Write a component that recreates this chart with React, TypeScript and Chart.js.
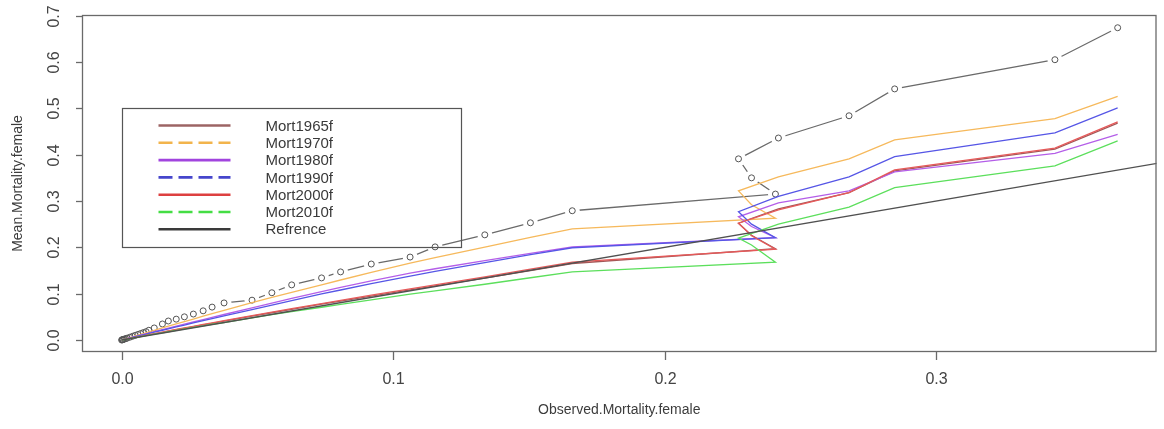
import React, { useEffect, useRef } from "react";
import { Chart, registerables } from "chart.js";

Chart.register(...registerables);

// Observed mortality (x) shared by every series
const obsX = [
  0, 0.0002, 0.0004, 0.0005, 0.001, 0.0015, 0.002, 0.003, 0.004, 0.005, 0.006, 0.007, 0.008, 0.009, 0.01, 0.012,
  0.015, 0.0172, 0.0201, 0.0231, 0.0264, 0.03, 0.0333, 0.0377,
  0.048, 0.0553, 0.0626, 0.0736, 0.0806, 0.0919, 0.1062, 0.1154, 0.1337, 0.1505, 0.1659,
  0.2407, 0.2319, 0.2271, 0.2418, 0.2678, 0.2846, 0.3436, 0.3667,
];

// Mean mortality (circles, type "b")
const meanObs = [
  0, 0.0004, 0.0008, 0.001, 0.002, 0.003, 0.004, 0.006, 0.008, 0.01, 0.012, 0.014, 0.016, 0.018, 0.021, 0.026,
  0.0346, 0.041, 0.045, 0.05, 0.056, 0.063, 0.071, 0.08,
  0.086, 0.102, 0.119, 0.134, 0.147, 0.164, 0.179, 0.201, 0.227, 0.253, 0.279,
  0.315, 0.35, 0.391, 0.436, 0.484, 0.542, 0.605, 0.674,
];

const mort1965f = [
  0, 0.00022, 0.00045, 0.00056, 0.00112, 0.00168, 0.00224, 0.00335, 0.00446, 0.00557, 0.00668, 0.00779, 0.0089, 0.01, 0.0111, 0.0133,
  0.0166, 0.019, 0.0221, 0.0253, 0.0288, 0.0326, 0.0361, 0.0407,
  0.0514, 0.0588, 0.0661, 0.0773, 0.0841, 0.0947, 0.1083, 0.1168, 0.1337, 0.1499, 0.1651,
  0.197, 0.226, 0.252, 0.283, 0.318, 0.365, 0.412, 0.468,
];

const mort1970f = [
  0, 0.00035, 0.0007, 0.00087, 0.00175, 0.00262, 0.00349, 0.00524, 0.00698, 0.00872, 0.01045, 0.01219, 0.01391, 0.01564, 0.01737, 0.02081,
  0.02595, 0.02971, 0.03464, 0.03971, 0.04528, 0.0513, 0.05681, 0.06409,
  0.0805, 0.0919, 0.103, 0.1192, 0.1295, 0.1458, 0.1657, 0.1777, 0.2006, 0.2215, 0.24,
  0.263, 0.292, 0.322, 0.352, 0.391, 0.432, 0.478, 0.526,
];

const mort1980f = [
  0, 0.0003, 0.0006, 0.00075, 0.0015, 0.00225, 0.003, 0.0045, 0.006, 0.00747, 0.00896, 0.01045, 0.01193, 0.01341, 0.01489, 0.01785,
  0.02226, 0.02549, 0.02972, 0.03408, 0.03886, 0.04404, 0.04878, 0.05504,
  0.06955, 0.07963, 0.08964, 0.10451, 0.1134, 0.1274, 0.1444, 0.1538, 0.1711, 0.1871, 0.2007,
  0.221, 0.245, 0.266, 0.296, 0.322, 0.363, 0.403, 0.444,
];

const mort1990f = [
  0, 0.00028, 0.00057, 0.00071, 0.00142, 0.00213, 0.00284, 0.00425, 0.00566, 0.00707, 0.00848, 0.00989, 0.0113, 0.01269, 0.01409, 0.01688,
  0.02106, 0.02411, 0.02812, 0.03222, 0.03675, 0.04164, 0.04612, 0.05203,
  0.06581, 0.07548, 0.08507, 0.09936, 0.1079, 0.1215, 0.1381, 0.1481, 0.1671, 0.1842, 0.1991,
  0.221, 0.25, 0.277, 0.31, 0.352, 0.396, 0.447, 0.501,
];

const mort2000f = [
  0, 0.00023, 0.00046, 0.000575, 0.00115, 0.00172, 0.0023, 0.00344, 0.00458, 0.00572, 0.00686, 0.008, 0.00913, 0.01026, 0.01139, 0.01364,
  0.01701, 0.01947, 0.02269, 0.02599, 0.02962, 0.03354, 0.03713, 0.04185,
  0.05275, 0.06028, 0.06773, 0.07875, 0.08576, 0.09677, 0.1104, 0.1192, 0.1364, 0.1529, 0.1681,
  0.196, 0.225, 0.252, 0.281, 0.318, 0.367, 0.414, 0.471,
];

const mort2010f = [
  0, 0.00021, 0.00042, 0.000525, 0.00105, 0.00157, 0.0021, 0.00314, 0.00419, 0.00523, 0.00628, 0.00732, 0.00836, 0.0094, 0.01043, 0.0125,
  0.0156, 0.0178, 0.0208, 0.0238, 0.0271, 0.0307, 0.034, 0.0377,
  0.0476, 0.0546, 0.0615, 0.0707, 0.0767, 0.0865, 0.0988, 0.1061, 0.1203, 0.1344, 0.147,
  0.168, 0.205, 0.22, 0.25, 0.287, 0.329, 0.376, 0.43,
];

// Reference line y = x
const refX = [0, 0.4];
const refY = [0, 0.4];

const xTicks = [0, 0.1, 0.2, 0.3];
const yTicks = [0, 0.1, 0.2, 0.3, 0.4, 0.5, 0.6, 0.7];

const legendNames = ["Mort1965f", "Mort1970f", "Mort1980f", "Mort1990f", "Mort2000f", "Mort2010f", "Refrence"];

// styles (kept separate from data)
const lineColors = ["#a25858", "#f6b95c", "#b45ee8", "#5656e6", "#e65a5a", "#5cdf5c", "#505050"];
const legendColors = ["#9c6464", "#f2b44c", "#a144de", "#4646cc", "#dd4040", "#44dd44", "#3a3a3a"];
const legendDashed = [false, true, false, true, false, true, false];

const FONT = '"Liberation Sans", Arial, Helvetica, sans-serif';

const pts = (xs: number[], ys: number[]) => xs.map((x, i) => ({ x, y: ys[i] }));

const framePlugin = {
  id: "rFrame",
  afterDatasetsDraw(chart: any) {
    const { ctx, chartArea: a, scales } = chart;
    const xs = scales.x;
    const ys = scales.y;
    ctx.save();

    // box
    ctx.strokeStyle = "#6a6a6a";
    ctx.lineWidth = 1.3;
    ctx.strokeRect(a.left + 0.5, a.top + 0.5, a.right - a.left - 1, a.bottom - a.top - 1);

    // x axis
    ctx.fillStyle = "#444";
    ctx.font = "16px " + FONT;
    ctx.textAlign = "center";
    ctx.textBaseline = "middle";
    xTicks.forEach((v) => {
      const px = Math.round(xs.getPixelForValue(v)) + 0.5;
      ctx.beginPath();
      ctx.moveTo(px, a.bottom);
      ctx.lineTo(px, a.bottom + 8);
      ctx.stroke();
      ctx.fillText(v.toFixed(1), px, a.bottom + 28);
    });

    // y axis
    yTicks.forEach((v) => {
      const py = Math.round(ys.getPixelForValue(v)) + 0.5;
      ctx.beginPath();
      ctx.moveTo(a.left - 6, py);
      ctx.lineTo(a.left, py);
      ctx.stroke();
      ctx.save();
      ctx.translate(a.left - 27, py);
      ctx.rotate(-Math.PI / 2);
      ctx.fillText(v.toFixed(1), 0, 0);
      ctx.restore();
    });

    // axis titles
    ctx.font = "14px " + FONT;
    ctx.fillStyle = "#3c3c3c";
    ctx.fillText("Observed.Mortality.female", (a.left + a.right) / 2, a.bottom + 58);
    ctx.save();
    ctx.translate(18, (a.top + a.bottom) / 2);
    ctx.rotate(-Math.PI / 2);
    ctx.fillText("Mean.Mortality.female", 0, 0);
    ctx.restore();

    // legend, anchored at data (0, 0.5), transparent background
    const lx = Math.round(xs.getPixelForValue(0)) + 0.5;
    const ly = Math.round(ys.getPixelForValue(0.5)) + 0.5;
    const lw = 339;
    const lh = 139;
    ctx.strokeStyle = "#555";
    ctx.lineWidth = 1.2;
    ctx.strokeRect(lx, ly, lw, lh);
    ctx.font = "15px " + FONT;
    ctx.textAlign = "left";
    legendNames.forEach((name, i) => {
      const ry = ly + 17 + i * 17.3;
      ctx.strokeStyle = legendColors[i];
      ctx.lineWidth = 2.6;
      ctx.setLineDash(legendDashed[i] ? [14, 6] : []);
      ctx.beginPath();
      ctx.moveTo(lx + 36, ry);
      ctx.lineTo(lx + 108, ry);
      ctx.stroke();
      ctx.setLineDash([]);
      ctx.fillStyle = "#3a3a3a";
      ctx.fillText(name, lx + 143, ry + 1);
    });

    ctx.restore();
  },
};

export default function App() {
  const canvasRef = useRef<HTMLCanvasElement | null>(null);

  useEffect(() => {
    if (!canvasRef.current) return;
    const lineDs = (label: string, ys: number[], color: string, xsArr: number[] = obsX) => ({
      label,
      data: pts(xsArr, ys),
      showLine: true,
      borderColor: color,
      backgroundColor: color,
      borderWidth: 1.3,
      pointRadius: 0,
      fill: false,
      tension: 0,
    });

    const chart = new Chart(canvasRef.current, {
      type: "scatter",
      data: {
        datasets: [
          lineDs("Refrence", refY, lineColors[6], refX),
          lineDs("Mort2010f", mort2010f, lineColors[5]),
          lineDs("Mort2000f", mort2000f, lineColors[4]),
          lineDs("Mort1990f", mort1990f, lineColors[3]),
          lineDs("Mort1980f", mort1980f, lineColors[2]),
          lineDs("Mort1970f", mort1970f, lineColors[1]),
          lineDs("Mort1965f", mort1965f, lineColors[0]),
          {
            label: "circles",
            data: pts(obsX, meanObs),
            showLine: false,
            pointRadius: 3,
            pointBorderWidth: 1,
            pointBorderColor: "#555",
            pointBackgroundColor: "rgba(0,0,0,0)",
          },
          {
            label: "gaps",
            data: pts(obsX, meanObs),
            showLine: false,
            pointRadius: 7.5,
            pointBorderWidth: 0,
            pointBorderColor: "#fff",
            pointBackgroundColor: "#fff",
          },
          {
            label: "meanLine",
            data: pts(obsX, meanObs),
            showLine: true,
            borderColor: "#6a6a6a",
            borderWidth: 1.3,
            pointRadius: 0,
            tension: 0,
          },
        ],
      },
      options: {
        animation: false,
        responsive: false,
        devicePixelRatio: 1,
        events: [],
        layout: { padding: { left: 82, top: 15, right: 2, bottom: 77 } },
        scales: {
          x: { type: "linear", min: -0.0146, max: 0.381, display: false },
          y: { type: "linear", min: -0.0259, max: 0.7015, display: false },
        },
        plugins: {
          legend: { display: false },
          tooltip: { enabled: false },
          title: { display: false },
        },
      },
      plugins: [framePlugin],
    });
    return () => chart.destroy();
  }, []);

  return (
    <div style={{ position: "absolute", left: 0, top: 0, width: 1164, height: 429, background: "#fff" }}>
      <canvas ref={canvasRef} width={1164} height={429} style={{ display: "block" }} />
    </div>
  );
}
